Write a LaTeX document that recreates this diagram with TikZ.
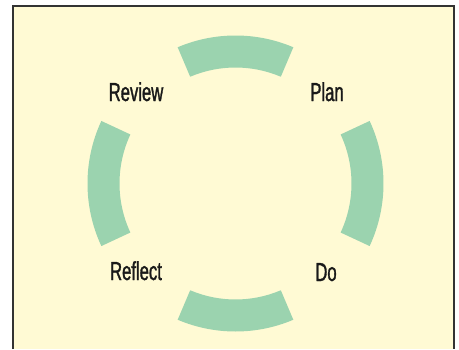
\documentclass[tikz,border=0pt]{standalone}
\usepackage{fontspec}
\newfontfamily\labfont[FakeStretch=0.64,FakeBold=1.2]{Liberation Sans}
\definecolor{cream}{HTML}{FFFAD4}
\definecolor{arcgreen}{HTML}{9BD3AF}
\definecolor{frame}{HTML}{333333}
\begin{document}
\begin{tikzpicture}[x=1pt,y=1pt,
  seg/.style={fill=arcgreen},
  lab/.style={anchor=base,inner sep=0pt,font=\labfont\fontsize{26}{30}\selectfont,text=black!90}]
\useasboundingbox (0,0) rectangle (459,-349);
\fill[cream] (13,-6) rectangle (454,-349);
\draw[frame,line width=1.5pt] (13,-349) -- (13,-6) -- (454,-6) -- (454,-349);
\coordinate (c) at (235.5,-183.5);
\def\R{148}\def\r{116}
% top
\fill[seg] ([shift={(67:\R)}]c) arc[start angle=67,end angle=113,radius=\R]
  -- ([shift={(113:\r)}]c) arc[start angle=113,end angle=67,radius=\r] -- cycle;
% bottom
\fill[seg] ([shift={(247:\R)}]c) arc[start angle=247,end angle=293,radius=\R]
  -- ([shift={(293:\r)}]c) arc[start angle=293,end angle=247,radius=\r] -- cycle;
% left
\fill[seg] ([shift={(155:\R)}]c) arc[start angle=155,end angle=205,radius=\R]
  -- ([shift={(205:\r)}]c) arc[start angle=205,end angle=155,radius=\r] -- cycle;
% right
\fill[seg] ([shift={(-25:\R)}]c) arc[start angle=-25,end angle=25,radius=\R]
  -- ([shift={(25:\r)}]c) arc[start angle=25,end angle=-25,radius=\r] -- cycle;
\node[lab] (review) at (136,-101) {Review};
\node[lab] (plan) at (327,-101) {Plan};
\node[lab] (reflect) at (136,-280) {Reflect};
\node[lab] (do) at (326,-281) {Do};
\end{tikzpicture}
\end{document}
